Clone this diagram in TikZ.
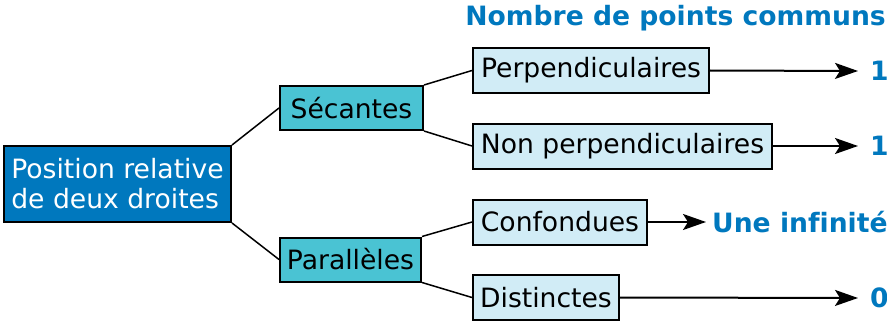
\documentclass[tikz,border=0pt]{standalone}
\usepackage{fontspec}
\setmainfont[Ligatures=CommonOff]{DejaVu Sans}
\usetikzlibrary{arrows.meta}
\definecolor{dblue}{RGB}{0,120,190}
\definecolor{teal2}{RGB}{74,195,211}
\definecolor{lblue}{RGB}{209,236,246}
\begin{document}
\begin{tikzpicture}[x=1pt,y=-1pt,
  every node/.style={font=\fontsize{26.6}{30}\selectfont},
  rootbox/.style={draw=black,line width=2pt,fill=dblue,text=white,inner sep=0pt,align=left,minimum width=227pt,minimum height=76pt},
  midbox/.style={draw=black,line width=2pt,fill=teal2,inner sep=0pt,minimum height=44pt},
  leafbox/.style={draw=black,line width=2pt,fill=lblue,inner sep=0pt,minimum height=45pt},
  link/.style={line width=1.5pt},
  arr/.style={line width=2pt,-{Stealth[length=23pt,width=16pt,inset=5pt]}},
  num/.style={text=dblue,font=\fontsize{26.6}{30}\selectfont\bfseries,inner sep=0pt}
]
\useasboundingbox (0,0) rectangle (887,321);
\node[num,anchor=east] (head) at (886,18) {Nombre de points communs};
\node[rootbox] (root) at (117.5,184) {Position relative\\de deux droites};
\node[midbox,minimum width=143pt] (sec) at (351.5,108) {Sécantes};
\node[midbox,minimum width=141pt] (par) at (350.5,259.5) {Parallèles};
\node[leafbox,minimum width=236pt] (perp) at (591,70.5) {Perpendiculaires};
\node[leafbox,minimum width=299pt] (nperp) at (622.5,146) {Non perpendiculaires};
\node[leafbox,minimum width=174pt] (conf) at (560,222) {Confondues};
\node[leafbox,minimum width=146pt] (dist) at (546,297.5) {Distinctes};
\node[num,anchor=west,inner xsep=12pt] (r1) at (858,71) {1};
\node[num,anchor=west,inner xsep=12pt] (r2) at (858,146) {1};
\node[num,anchor=west,inner xsep=6pt] (r3) at (706,222) {Une infinité};
\node[num,anchor=west,inner xsep=12pt] (r4) at (858,298) {0};
\draw[link] (root.north east) -- (sec.west);
\draw[link] (root.south east) -- (par.west);
\draw[link] (sec.north east) -- (perp.west);
\draw[link] (sec.south east) -- (nperp.west);
\draw[link] (par.north east) -- (conf.west);
\draw[link] (par.south east) -- (dist.west);
\draw[arr] (perp.east) -- (r1.west);
\draw[arr] (nperp.east) -- (r2.west);
\draw[arr] (conf.east) -- (r3.west);
\draw[arr] (dist.east) -- (r4.west);
\end{tikzpicture}
\end{document}
